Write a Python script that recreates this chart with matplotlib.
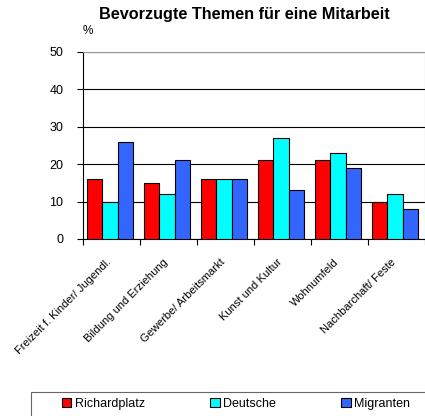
from matplotlib import pyplot as plt
from matplotlib.patches import Rectangle
from matplotlib.transforms import ScaledTranslation
import numpy as np

plt.rcParams['font.family'] = ['Liberation Sans', 'DejaVu Sans']

categories = ['Freizeit f. Kinder/ Jugendl.', 'Bildung und Erziehung',
              'Gewerbe/ Arbeitsmarkt', 'Kunst und Kultur', 'Wohnumfeld',
              'Nachbarchaft/ Feste']
richardplatz = [16, 15, 16, 21, 21, 10]
deutsche = [10, 12, 16, 27, 23, 12]
migranten = [26, 21, 16, 13, 19, 8]

series = [('Richardplatz', richardplatz, '#ff0000'),
          ('Deutsche', deutsche, '#00ffff'),
          ('Migranten', migranten, '#3366ff')]

fig = plt.figure(figsize=(4.25, 4.16), dpi=100)
ax = fig.add_axes([0.195, 0.4255, 0.805, 0.4495])

x = np.arange(len(categories))
w = 0.27
for i, (name, vals, col) in enumerate(series):
    ax.bar(x + 0.07 + w * i, vals, w, align='edge', color=col,
           edgecolor='black', linewidth=0.8, label=name, zorder=3)

ax.set_xlim(0, len(categories))
ax.set_ylim(0, 50)
ax.set_yticks(range(0, 51, 10))
ax.grid(axis='y', color='black', linewidth=0.8, zorder=0)
ax.set_xticks(np.arange(len(categories) + 1))
ax.set_xticklabels([])
ax.set_xticks(x + 0.5, minor=True)
ax.set_xticklabels(categories, minor=True, rotation=45, ha='right',
                   rotation_mode='anchor', fontsize=8)
ax.tick_params(axis='x', which='minor', length=0, pad=13)
ax.tick_params(axis='both', which='major', labelsize=9, length=4,
               color='black')
ax.tick_params(axis='y', pad=10)
# nudge rotated labels a bit left
shift = ScaledTranslation(-4 / 72, 0, fig.dpi_scale_trans)
for lab in ax.get_xticklabels(minor=True):
    lab.set_transform(lab.get_transform() + shift)
for s in ['top', 'right']:
    ax.spines[s].set_color('#999999')
ax.spines['left'].set_color('black')
ax.spines['bottom'].set_color('black')

fig.text(0.575, 0.965, 'Bevorzugte Themen für eine Mitarbeit',
         ha='center', va='center', fontsize=11.7, fontweight='bold')
fig.text(0.207, 0.925, '%', ha='center', va='center', fontsize=8.5)

# legend box, runs past the right/bottom edge like the original
fig.patches.append(Rectangle((31 / 425, -0.05), 1.0, 0.05 + 24 / 416,
                             transform=fig.transFigure, facecolor='white',
                             edgecolor='#666666', linewidth=0.8))
leg = fig.legend(ncol=3, loc='center left',
                 bbox_to_anchor=(62 / 425, 1 - 404 / 416),
                 fontsize=9, frameon=False,
                 handlelength=0.75, handleheight=0.75, handletextpad=0.3,
                 columnspacing=5.2, borderaxespad=0, borderpad=0)
for h in leg.legend_handles:
    h.set_linewidth(0.8)

fig.savefig('out.png', dpi=100)
